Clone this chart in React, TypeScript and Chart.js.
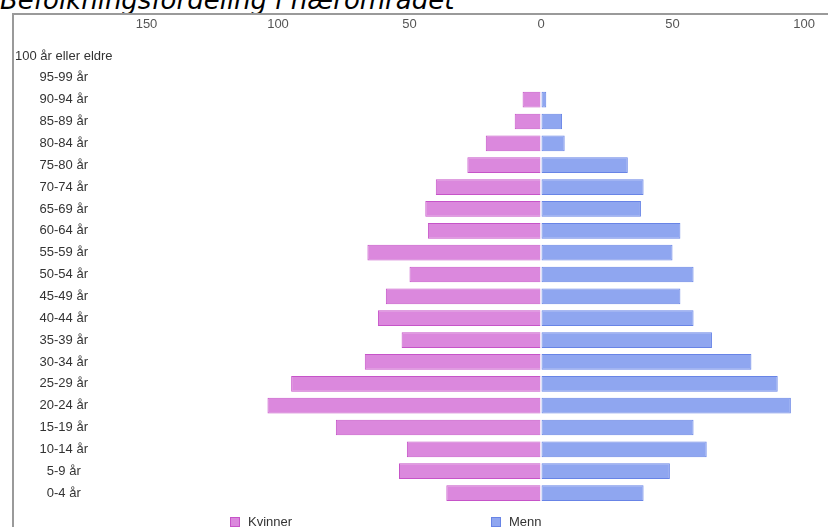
import React, { useEffect, useRef } from "react";
import { Chart, registerables } from "chart.js";

Chart.register(...registerables);

const categories = [
  "100 år eller eldre",
  "95-99 år",
  "90-94 år",
  "85-89 år",
  "80-84 år",
  "75-80 år",
  "70-74 år",
  "65-69 år",
  "60-64 år",
  "55-59 år",
  "50-54 år",
  "45-49 år",
  "40-44 år",
  "35-39 år",
  "30-34 år",
  "25-29 år",
  "20-24 år",
  "15-19 år",
  "10-14 år",
  "5-9 år",
  "0-4 år",
];
const kvinner = [0, 0, 7, 10, 21, 28, 40, 44, 43, 66, 50, 59, 62, 53, 67, 95, 104, 78, 51, 54, 36];
const menn = [0, 0, 2, 8, 9, 33, 39, 38, 53, 50, 58, 53, 58, 65, 80, 90, 95, 58, 63, 49, 39];
const tickValues = [-150, -100, -50, 0, 50, 100];
const seriesNames = ["Kvinner", "Menn"];
const title = "Befolkningsfordeling i nærområdet";

const FONT = '"Liberation Sans", Arial, sans-serif';
const PINK = "#db88dd";
const PINK_BORDER = "#c654c8";
const BLUE = "#8fa6f0";
const BLUE_BORDER = "#6884e6";

export default function App() {
  const ref = useRef<HTMLCanvasElement | null>(null);

  useEffect(() => {
    if (!ref.current) return;
    const chart = new Chart(ref.current, {
      type: "bar",
      data: {
        labels: categories,
        datasets: [
          {
            label: seriesNames[0],
            data: kvinner.map((v) => -v),
            backgroundColor: PINK,
            borderColor: PINK_BORDER,
            borderWidth: 1,
            borderSkipped: "start",
            inflateAmount: 0,
            barPercentage: 0.72,
            categoryPercentage: 1,
            order: 1,
          },
          {
            label: seriesNames[1],
            data: menn,
            backgroundColor: BLUE,
            borderColor: BLUE_BORDER,
            borderWidth: 1,
            borderSkipped: false,
            inflateAmount: 0,
            barPercentage: 0.72,
            categoryPercentage: 1,
            order: 0,
          },
        ],
      },
      options: {
        indexAxis: "y",
        animation: false,
        responsive: false,
        maintainAspectRatio: false,
        layout: { padding: { left: 0, right: 0, top: 0, bottom: 23 } },
        plugins: {
          legend: { display: false },
          title: { display: false },
          tooltip: { enabled: false },
        },
        scales: {
          x: {
            type: "linear",
            position: "top",
            stacked: true,
            min: -200,
            max: 109.5,
            z: 1,
            afterBuildTicks: (s: any) => {
              s.ticks = tickValues.map((v) => ({ value: v }));
            },
            afterFit: (s: any) => {
              s.height = 30;
            },
            ticks: {
              callback: (v: any) => String(Math.abs(Number(v))),
              color: "#555",
              font: { family: FONT, size: 13 },
              padding: 13,
              maxRotation: 0,
              autoSkip: false,
            },
            grid: {
              color: (ctx: any) =>
                ctx.tick && ctx.tick.value === 0 ? "rgba(0,0,0,0)" : "rgba(255,255,255,0.3)",
              drawTicks: false,
            },
            border: { display: false },
          },
          y: {
            stacked: true,
            afterFit: (s: any) => {
              s.width = 0;
            },
            grid: { display: false },
            border: { display: false },
            ticks: {
              mirror: true,
              crossAlign: "center",
              padding: 0,
              color: "#333",
              font: { family: FONT, size: 13 },
              autoSkip: false,
            },
          },
        },
      },
    } as any);
    return () => chart.destroy();
  }, []);

  return (
    <div
      style={{
        position: "absolute",
        left: 0,
        top: 0,
        width: 828,
        height: 527,
        overflow: "hidden",
        background: "#fff",
      }}
    >
      <div
        style={{
          position: "absolute",
          left: 0,
          top: -15,
          fontFamily: '"DejaVu Sans", Verdana, sans-serif',
          fontStyle: "italic",
          fontSize: 26,
          whiteSpace: "nowrap",
          color: "#000",
        }}
      >
        {title}
      </div>
      <div
        style={{
          position: "absolute",
          left: 12,
          top: 13,
          width: 900,
          height: 600,
          borderTop: "2px solid #9a9a9a",
          borderLeft: "2px solid #9a9a9a",
        }}
      />
      <canvas
        ref={ref}
        width={814}
        height={512}
        style={{ position: "absolute", left: 15, top: 15, width: 814, height: 512, display: "block" }}
      />
      <div style={{ position: "absolute", left: 230, top: 517, width: 8, height: 8, background: PINK, border: `1px solid ${PINK_BORDER}` }} />
      <div style={{ position: "absolute", left: 248, top: 514, fontFamily: FONT, fontSize: 13, lineHeight: "15px", color: "#333" }}>
        {seriesNames[0]}
      </div>
      <div style={{ position: "absolute", left: 491, top: 517, width: 8, height: 8, background: BLUE, border: `1px solid ${BLUE_BORDER}` }} />
      <div style={{ position: "absolute", left: 509, top: 514, fontFamily: FONT, fontSize: 13, lineHeight: "15px", color: "#333" }}>
        {seriesNames[1]}
      </div>
    </div>
  );
}
